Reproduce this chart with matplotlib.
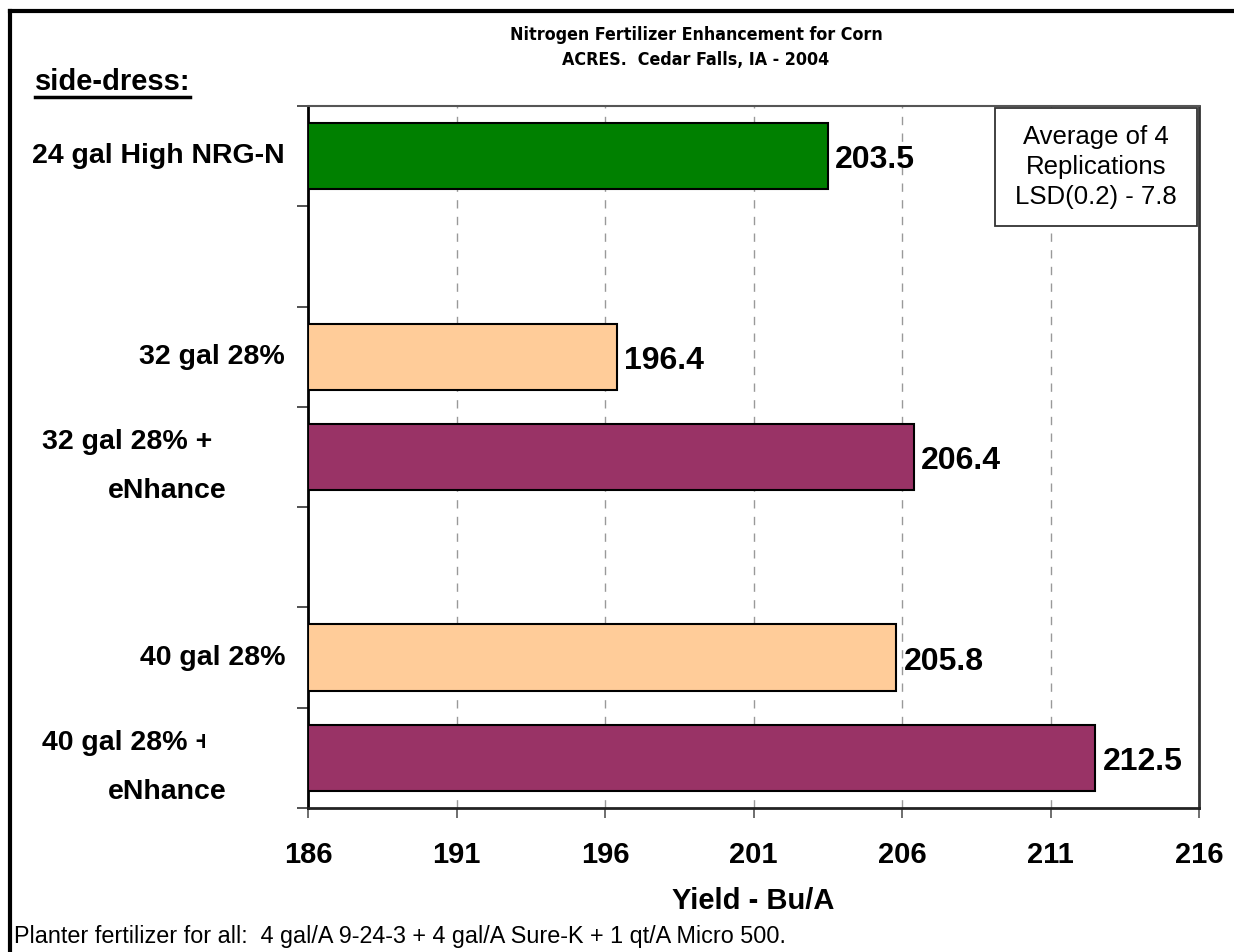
import matplotlib
matplotlib.use("Agg")
import matplotlib.pyplot as plt
from matplotlib import font_manager
from matplotlib.font_manager import FontProperties
from matplotlib.patches import Rectangle
from matplotlib.lines import Line2D
from matplotlib.transforms import Bbox, TransformedBbox

# ---- data ----
categories = ["24 gal High NRG-N", "", "32 gal 28%", "32 gal 28% +\neNhance",
              "", "40 gal 28%", "40 gal 28% +\neNhance"]
yields = [203.5, None, 196.4, 206.4, None, 205.8, 212.5]
bar_colors = ["#008000", None, "#FFCC99", "#993366", None, "#FFCC99", "#993366"]
xticks = [186, 191, 196, 201, 206, 211, 216]
title_lines = ["Nitrogen Fertilizer Enhancement for Corn", "ACRES.  Cedar Falls, IA - 2004"]
box_text = "Average of 4\nReplications\nLSD(0.2) - 7.8"
footnote = "Planter fertilizer for all:  4 gal/A 9-24-3 + 4 gal/A Sure-K + 1 qt/A Micro 500."

names = {f.name for f in font_manager.fontManager.ttflist}
base = "Liberation Sans" if "Liberation Sans" in names else "DejaVu Sans"
plt.rcParams["font.family"] = [base, "DejaVu Sans"]

# look for a narrow / condensed bold font for the title
cands = []
for f in font_manager.fontManager.ttflist:
    fn = f.fname.lower()
    if ("narrow" in fn or "condensed" in fn) and "bold" in fn and "oblique" not in fn and "italic" not in fn:
        cands.append(f.fname)
cands.sort(key=lambda s: (0 if "liberation" in s.lower() else 1 if "dejavusans" in s.lower() else 2))
if cands:
    narrow_fp = FontProperties(fname=cands[0], size=12.8)
else:
    narrow_fp = FontProperties(family=base, weight="bold", size=12)

W, H = 1234, 952
fig = plt.figure(figsize=(W / 100, H / 100), dpi=100)
AX_L, AX_R, AX_T, AX_B = 308, 1199, 106, 808
ax = fig.add_axes([AX_L / W, 1 - AX_B / H, (AX_R - AX_L) / W, (AX_B - AX_T) / H])
axw = AX_R - AX_L

n = len(categories)
for i, (v, c) in enumerate(zip(yields, bar_colors)):
    if v is None:
        continue
    ax.barh(i, v - xticks[0], left=xticks[0], height=0.66, color=c,
            edgecolor="black", linewidth=1.5, zorder=3)
    ax.text(v + 0.25, i + 0.04, f"{v:.1f}", va="center", ha="left",
            fontsize=23, fontweight="bold", zorder=4)

ax.set_xlim(xticks[0], xticks[-1])
ax.set_ylim(n - 0.5, -0.5)
ax.set_xticks(xticks)
ax.set_xticklabels([str(t) for t in xticks], fontsize=21, fontweight="bold")
ax.tick_params(axis="x", direction="out", length=7.5, width=1.2, color="#555555", pad=16)
ax.set_yticks([i - 0.5 for i in range(n + 1)])
ax.set_yticklabels([])
ax.tick_params(axis="y", direction="out", length=8, width=1.2, color="#333333")
ax.grid(axis="x", linestyle=(0, (6, 6)), color="#999999", linewidth=1, zorder=0)

ax.spines["left"].set_linewidth(2)
ax.spines["left"].set_color("black")
ax.spines["bottom"].set_linewidth(2)
ax.spines["bottom"].set_color("#222222")
ax.spines["top"].set_color("#555555")
ax.spines["top"].set_linewidth(1.5)
ax.spines["right"].set_color("#333333")
ax.spines["right"].set_linewidth(2)

ax.set_xlabel("Yield - Bu/A", fontsize=21, fontweight="bold", labelpad=13)

# category labels (the last one is truncated in the original, as if clipped)
ytr = ax.get_yaxis_transform()
slot_px = (AX_B - AX_T) / n
clip_last = TransformedBbox(Bbox([[0, 0], [205 / W, 1]]), fig.transFigure)
for i, lab in enumerate(categories):
    if not lab:
        continue
    lines = lab.split("\n")
    if len(lines) == 1:
        ax.text(-23 / axw, i, lab, transform=ytr, ha="right", va="center",
                fontsize=20.5, fontweight="bold")
    else:
        t1 = ax.text((42 - AX_L) / axw, i - 15 / slot_px, lines[0], transform=ytr,
                     ha="left", va="center", fontsize=20.5, fontweight="bold")
        if i == n - 1:
            t1.set_clip_box(clip_last)
            t1.set_clip_on(True)
        ax.text((167 - AX_L) / axw, i + 34 / slot_px, lines[1], transform=ytr,
                ha="center", va="center", fontsize=20.5, fontweight="bold")

# titles and annotations
fig.text(696 / W, 1 - 35 / H, title_lines[0], ha="center", va="center",
         fontproperties=narrow_fp)
fig.text(696 / W, 1 - 60 / H, title_lines[1], ha="center", va="center",
         fontproperties=narrow_fp)
fig.text(35 / W, 1 - 82 / H, "side-dress:", ha="left", va="center",
         fontsize=21, fontweight="bold")
fig.add_artist(Line2D([35 / W, 190 / W], [1 - 97 / H, 1 - 97 / H],
                      color="black", linewidth=2.5))

bx0, bx1 = (995 - AX_L) / axw, (1197 - AX_L) / axw
by1, by0 = 1 - (108 - AX_T) / (AX_B - AX_T), 1 - (226 - AX_T) / (AX_B - AX_T)
ax.add_patch(Rectangle((bx0, by0), bx1 - bx0, by1 - by0, transform=ax.transAxes,
                       facecolor="white", edgecolor="#333333", linewidth=1.3, zorder=5))
ax.text((bx0 + bx1) / 2, (by0 + by1) / 2, box_text, transform=ax.transAxes,
        ha="center", va="center", fontsize=18.5, linespacing=1.32, zorder=6)
fig.text(14 / W, 1 - 937 / H, footnote, ha="left", va="center", fontsize=16.8)

# outer frame (partially visible)
fig.add_artist(Line2D([9.5 / W, 9.5 / W], [-0.1, 1 - 10.5 / H], color="black", linewidth=3))
fig.add_artist(Line2D([9.5 / W, 1.1], [1 - 10.5 / H, 1 - 10.5 / H], color="black", linewidth=3))

fig.savefig("out.png", dpi=100)
